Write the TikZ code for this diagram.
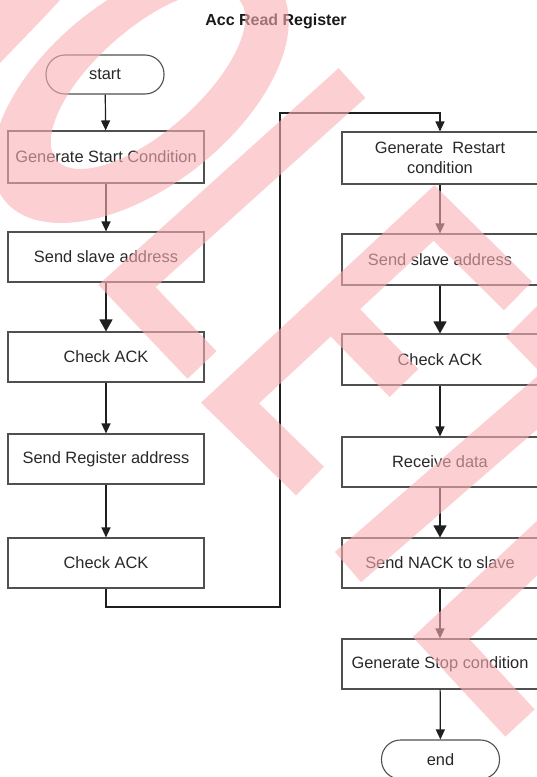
\documentclass[tikz,border=0pt]{standalone}
\usepackage{fontspec}
\setmainfont{Liberation Sans}
\usetikzlibrary{arrows.meta}
\definecolor{txt}{RGB}{40,40,40}
\definecolor{brd}{RGB}{80,80,80}
\definecolor{wm}{RGB}{250,177,180}
\tikzset{
  lbl/.style={text=txt, font=\fontsize{16.4}{20}\selectfont, inner sep=0pt, align=center},
  box/.style={lbl, draw=brd, line width=1.1pt, minimum width=196pt, minimum height=50pt},
  term/.style={lbl, draw=brd, line width=1.1pt, rounded corners=19pt, minimum width=118pt, minimum height=39pt},
  flow/.style={draw=black!88, line width=1.2pt, -{Triangle[length=10pt,width=9pt]}},
  flowbig/.style={flow, -{Triangle[length=12pt,width=13pt]}},
  wmstroke/.style={draw=wm, draw opacity=0.6, line width=40pt, line join=miter, line cap=butt},
  wmfill/.style={fill=wm, fill opacity=0.6},
}
\begin{document}
\begin{tikzpicture}[x=1pt,y=-1pt]
\useasboundingbox (0,0) rectangle (537,777);
\clip (0,0) rectangle (537,777);
\fill[white] (0,0) rectangle (537,777);

\node[font=\bfseries\fontsize{16}{19}\selectfont, text=black!90, inner sep=0pt] (title) at (276,21) {Acc Read Register};

% left column
\node[term] (start) at (105,74.5) {start};
\node[box, minimum height=52pt] (b1) at (106,157) {Generate Start Condition};
\node[box] (b2) at (106,257) {Send slave address};
\node[box] (b3) at (106,357) {Check ACK};
\node[box] (b4) at (106,459) {Send Register address};
\node[box] (b5) at (106,563) {Check ACK};

% right column
\node[box, minimum height=52pt] (r1) at (440,158) {Generate\ \ Restart\\condition};
\node[box, minimum height=51pt] (r2) at (440,259.5) {Send slave address};
\node[box, minimum height=51pt] (r3) at (440,359.5) {Check ACK};
\node[box] (r4) at (440,462) {Receive data};
\node[box] (r5) at (440,563) {Send NACK to slave};
\node[box] (r6) at (440,664) {Generate Stop condition};
\node[term] (end) at (440.5,759.5) {end};

\coordinate (c2) at (280,607);
\coordinate (c3) at (280,113);

\draw[flow] (start) -- (b1);
\draw[flow] (b1) -- (b2);
\draw[flowbig] (b2) -- (b3);
\draw[flow] (b3) -- (b4);
\draw[flow] (b4) -- (b5);
\draw[flow] (b5.south) -- (b5.south |- c2) -- (c2) -- (c3) -- (c3 -| r1.north) -- (r1.north);
\draw[flow] (r1) -- (r2);
\draw[flowbig] (r2) -- (r3);
\draw[flow] (r3) -- (r4);
\draw[flowbig] (r4) -- (r5);
\draw[flow] (r5) -- (r6);
\draw[flow] (r6) -- (end);

% watermark
\fill[wmfill, even odd rule]
  plot[domain=0:360, samples=120] ({140.6+125*cos(\x)-79.6*sin(\x)}, {92+131*sin(\x)}) -- cycle
  plot[domain=0:360, samples=120] ({148+70*cos(\x)-67.5*sin(\x)}, {80+89*sin(\x)}) -- cycle;
\draw[wmstroke]
  (352,83) -- (127,286) -- (202,365)
  (518,296) -- (434,213) -- (230,403) -- (310,481)
  (333,310) -- (404,383)
  (348,567) -- (590,357)
  (610,480) -- (441,638) -- (520,723);
\fill[wmfill] (-5,-5) -- (60,-5) -- (60,0) .. controls (40,22) and (20,42) .. (0,63) -- (-5,63) -- cycle;
\fill[wmfill] (506,337) -- (540,303) -- (540,372) -- cycle;
\end{tikzpicture}
\end{document}
